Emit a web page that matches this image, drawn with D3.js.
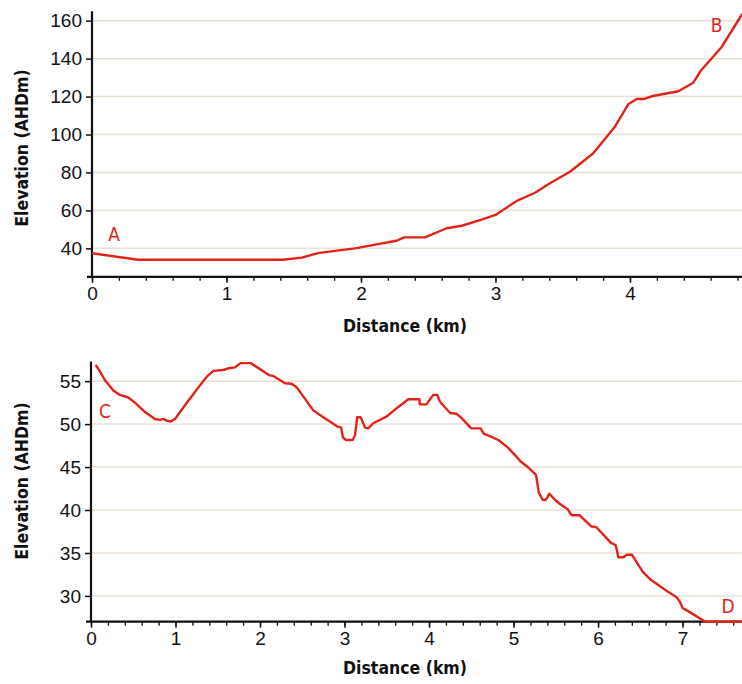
<!DOCTYPE html>
<html>
<head>
<meta charset="utf-8">
<script src="https://cdn.jsdelivr.net/npm/d3@7"></script>
<style>
  html, body { margin: 0; padding: 0; background: #fff; }
  svg { display: block; font-family: "Liberation Sans Narrow", "DejaVu Sans Condensed", sans-serif; }
</style>
</head>
<body>
<svg id="chart" width="742" height="684"></svg>
<script>
// ---- Data: Profile A–B ----
const distAB = [0, 0.344, 1.42, 1.56, 1.68, 1.82, 1.955, 2.117, 2.265, 2.32, 2.476, 2.637, 2.749, 2.885, 3.0, 3.158, 3.294, 3.405, 3.554, 3.727, 3.888, 3.987, 4.05, 4.1, 4.17, 4.36, 4.47, 4.526, 4.68, 4.83, 4.85];
const elevAB = [37.4, 34.0, 34.0, 35.1, 37.5, 38.8, 40.0, 42.1, 44.0, 45.8, 45.8, 50.6, 51.9, 54.9, 57.6, 65.0, 69.3, 74.3, 80.4, 90.1, 104.1, 115.9, 118.7, 118.7, 120.3, 122.8, 127.3, 133.6, 146.0, 163.0, 164.5];

// ---- Data: Profile C–D ----
const distCD = [0.055, 0.107, 0.166, 0.264, 0.343, 0.441, 0.52, 0.639, 0.757, 0.817, 0.856, 0.896, 0.943, 0.994, 1.112, 1.25, 1.368, 1.447, 1.566, 1.625, 1.704, 1.77, 1.89, 2.0, 2.11, 2.157, 2.296, 2.374, 2.433, 2.63, 2.749, 2.92, 2.96, 2.98, 3.018, 3.096, 3.124, 3.15, 3.19, 3.243, 3.28, 3.34, 3.5, 3.637, 3.755, 3.886, 3.89, 3.97, 4.05, 4.097, 4.13, 4.25, 4.327, 4.386, 4.5, 4.61, 4.65, 4.72, 4.82, 4.94, 5.045, 5.077, 5.156, 5.266, 5.3, 5.345, 5.385, 5.424, 5.49, 5.55, 5.64, 5.686, 5.78, 5.92, 5.98, 6.15, 6.21, 6.24, 6.3, 6.34, 6.4, 6.53, 6.62, 6.81, 6.93, 6.97, 7.0, 7.07, 7.27, 7.7];
const elevCD = [56.9, 56.1, 55.1, 53.9, 53.4, 53.1, 52.5, 51.4, 50.6, 50.5, 50.6, 50.4, 50.3, 50.6, 52.2, 54.0, 55.5, 56.2, 56.3, 56.5, 56.6, 57.1, 57.1, 56.4, 55.7, 55.6, 54.75, 54.7, 54.3, 51.6, 50.8, 49.7, 49.6, 48.5, 48.15, 48.15, 48.7, 50.8, 50.8, 49.6, 49.5, 50.1, 50.9, 52.0, 52.9, 52.9, 52.3, 52.3, 53.4, 53.4, 52.6, 51.3, 51.2, 50.7, 49.5, 49.5, 48.85, 48.6, 48.15, 47.2, 46.1, 45.7, 45.1, 44.1, 42.0, 41.2, 41.2, 41.9, 41.2, 40.7, 40.1, 39.4, 39.4, 38.1, 38.0, 36.2, 35.9, 34.5, 34.5, 34.8, 34.8, 32.8, 31.9, 30.6, 29.85, 29.3, 28.6, 28.2, 27.0, 27.0];

// ---- Tick values ----
const xTicksAB = [0, 1, 2, 3, 4];
const yTicksAB = [40, 60, 80, 100, 120, 140, 160];
const xTicksCD = [0, 1, 2, 3, 4, 5, 6, 7];
const yTicksCD = [30, 35, 40, 45, 50, 55];

// ---- Annotations ----
const labelsAB = [{ t: "A", d: 0.164, v: 43.9 }, { t: "B", d: 4.645, v: 154.2 }];
const labelsCD = [{ t: "C", d: 0.166, v: 50.7 }, { t: "D", d: 7.54, v: 27.98 }];

const xTitle = "Distance (km)";
const yTitle = "Elevation (AHDm)";

const RED = "#e2231a";
const GRID = "#e8e0d4";

const svg = d3.select("#chart");

function panel(cfg) {
  const x = d3.scaleLinear().domain(cfg.xDomain).range(cfg.xRange);
  const y = d3.scaleLinear().domain(cfg.yDomain).range(cfg.yRange);
  const g = svg.append("g");

  // gridlines
  g.append("g").selectAll("line").data(cfg.yTicks).join("line")
    .attr("x1", cfg.xRange[0]).attr("x2", cfg.xRange[1])
    .attr("y1", d => y(d)).attr("y2", d => y(d))
    .attr("stroke", GRID).attr("stroke-width", 1.5);

  // minor x ticks
  const minor = d3.range(0, cfg.xDomain[1] + 1e-9, 0.2);
  const xMinor = d3.axisBottom(x).tickValues(minor).tickSize(4).tickFormat("");
  const gMinor = g.append("g").attr("transform", `translate(0,${cfg.yRange[0]})`).call(xMinor);
  gMinor.select(".domain").remove();
  gMinor.selectAll("line").attr("stroke", "#111").attr("stroke-width", 1.3);

  // major x axis
  const xAxis = d3.axisBottom(x).tickValues(cfg.xTicks).tickSize(6).tickSizeOuter(0).tickPadding(4).tickFormat(d3.format("d"));
  const gx = g.append("g").attr("transform", `translate(0,${cfg.yRange[0]})`).call(xAxis);
  gx.select(".domain").remove();
  gx.selectAll("line").attr("stroke", "#111").attr("stroke-width", 1.5);
  gx.selectAll("text").attr("font-size", 19).attr("fill", "#111").attr("font-family", "inherit");

  // y axis
  const yAxis = d3.axisLeft(y).tickValues(cfg.yTicks).tickSize(6).tickSizeOuter(0).tickPadding(4);
  const gy = g.append("g").attr("transform", `translate(${cfg.xRange[0]},0)`).call(yAxis);
  gy.select(".domain").remove();
  gy.selectAll("line").attr("stroke", "#111").attr("stroke-width", 1.5);
  gy.selectAll("text").attr("font-size", 19).attr("fill", "#111").attr("font-family", "inherit");

  // axis lines
  g.append("line")
    .attr("x1", cfg.xRange[0] - 5).attr("x2", cfg.xRange[1])
    .attr("y1", cfg.yRange[0]).attr("y2", cfg.yRange[0])
    .attr("stroke", "#111").attr("stroke-width", 2.2);
  g.append("line")
    .attr("x1", cfg.xRange[0]).attr("x2", cfg.xRange[0])
    .attr("y1", cfg.yRange[0]).attr("y2", cfg.yRange[1])
    .attr("stroke", "#111").attr("stroke-width", 2.2);

  // profile line
  const pts = cfg.dist.map((d, i) => [d, cfg.elev[i]]);
  g.append("path").datum(pts)
    .attr("d", d3.line().x(d => x(d[0])).y(d => y(d[1])))
    .attr("fill", "none").attr("stroke", RED).attr("stroke-width", 2.4)
    .attr("stroke-linejoin", "round");

  // annotations
  g.append("g").selectAll("text").data(cfg.labels).join("text")
    .attr("x", d => x(d.d)).attr("y", d => y(d.v))
    .attr("text-anchor", "middle").attr("font-size", 19).attr("fill", RED)
    .text(d => d.t);

  // titles
  g.append("text")
    .attr("x", cfg.xTitlePos[0]).attr("y", cfg.xTitlePos[1])
    .attr("text-anchor", "middle").attr("font-size", 17.5).attr("font-weight", "bold").attr("fill", "#111")
    .text(xTitle);
  g.append("text")
    .attr("transform", `translate(${cfg.yTitlePos[0]},${cfg.yTitlePos[1]}) rotate(-90)`)
    .attr("text-anchor", "middle").attr("font-size", 17.5).attr("font-weight", "bold").attr("fill", "#111")
    .text(yTitle);
}

panel({
  dist: distAB, elev: elevAB,
  xDomain: [0, 4.85], xRange: [92, 744.3],
  yDomain: [25, 165], yRange: [276.8, 11.2],
  xTicks: xTicksAB, yTicks: yTicksAB,
  labels: labelsAB,
  xTitlePos: [405, 332], yTitlePos: [28, 148]
});

panel({
  dist: distCD, elev: elevCD,
  xDomain: [0, 7.7], xRange: [91, 741.7],
  yDomain: [27, 57.3], yRange: [621.7, 361.4],
  xTicks: xTicksCD, yTicks: yTicksCD,
  labels: labelsCD,
  xTitlePos: [405, 674], yTitlePos: [28, 481]
});
</script>
</body>
</html>
